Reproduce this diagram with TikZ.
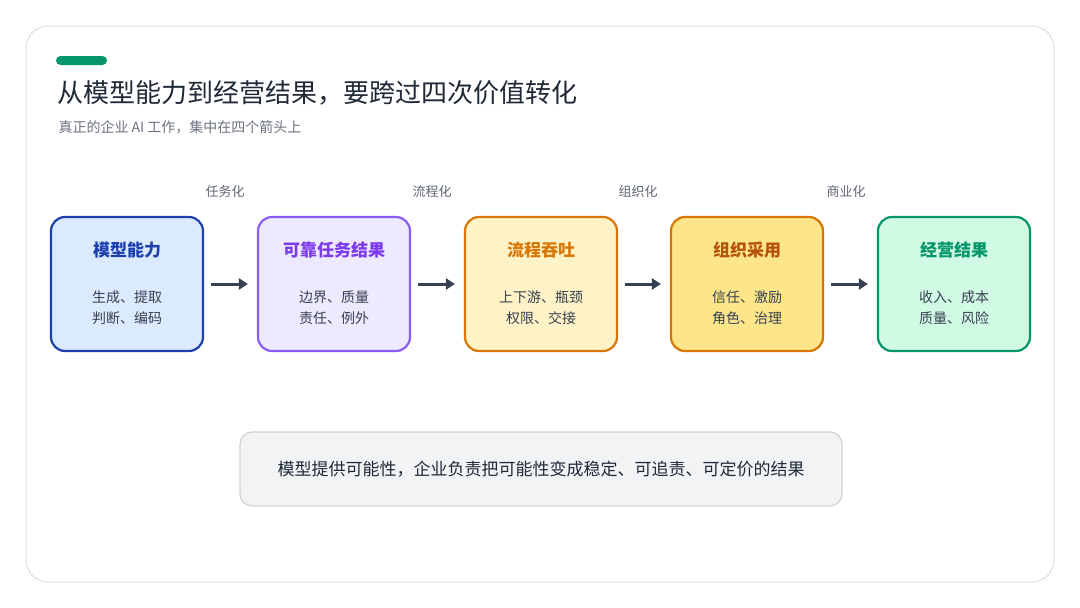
\documentclass[tikz,border=0pt]{standalone}
\usepackage{fontspec}
\setmainfont{Noto Sans CJK SC}
\usetikzlibrary{arrows.meta}
\definecolor{ink}{HTML}{1F2937}
\definecolor{sub}{HTML}{6B7280}
\definecolor{arr}{HTML}{374151}
\definecolor{s1}{HTML}{1E40AF}\definecolor{f1}{HTML}{DCEAFD}
\definecolor{s2}{HTML}{8B5CF6}\definecolor{f2}{HTML}{EDE9FE}\definecolor{t2}{HTML}{7C3AED}
\definecolor{s3}{HTML}{D97706}\definecolor{f3}{HTML}{FEF3C7}
\definecolor{f4}{HTML}{FDE68A}\definecolor{t4}{HTML}{B45309}
\definecolor{s5}{HTML}{059669}\definecolor{f5}{HTML}{D1FAE5}
\definecolor{nf}{HTML}{F1F3F5}
\tikzset{
 stage/.style={draw=#1,line width=2.2pt,rounded corners=14pt,minimum width=152pt,minimum height=134pt},
 ttl/.style={font=\fontsize{17}{20}\selectfont\bfseries},
 body/.style={font=\fontsize{14}{21}\selectfont,text=arr,align=center},
 lab/.style={font=\fontsize{13}{15}\selectfont,text=arr!80},
 con/.style={-{Triangle[length=9pt,width=11pt]},line width=3pt,draw=arr}
}
\begin{document}
\begin{tikzpicture}[x=1pt,y=-1pt]
\useasboundingbox[fill=white] (0,0) rectangle (1080,608);
\draw[draw=gray!25,line width=1pt,rounded corners=22pt,fill=white] (26,26) rectangle (1054,582);
\fill[s5,rounded corners=4.5pt] (56,56) rectangle (107,65);
\node[anchor=west,text=ink,font=\fontsize{26}{30}\selectfont] (title) at (54,93) {从模型能力到经营结果，要跨过四次价值转化};
\node[anchor=west,text=sub,font=\fontsize{14}{16}\selectfont] (subt) at (55,127) {真正的企业 AI 工作，集中在四个箭头上};

\node[stage=s1,fill=f1] (b1) at (127,284) {};
\node[stage=s2,fill=f2] (b2) at (334,284) {};
\node[stage=s3,fill=f3] (b3) at (541,284) {};
\node[stage=s3,fill=f4] (b4) at (747,284) {};
\node[stage=s5,fill=f5] (b5) at (954,284) {};

\node[ttl,text=s1] at (127,250) {模型能力};
\node[ttl,text=t2] at (334,250) {可靠任务结果};
\node[ttl,text=s3] at (541,250) {流程吞吐};
\node[ttl,text=t4] at (747,250) {组织采用};
\node[ttl,text=s5] at (954,250) {经营结果};

\node[body] at (127,308) {生成、提取\\判断、编码};
\node[body] at (334,308) {边界、质量\\责任、例外};
\node[body] at (541,308) {上下游、瓶颈\\权限、交接};
\node[body] at (747,308) {信任、激励\\角色、治理};
\node[body] at (954,308) {收入、成本\\质量、风险};

\draw[con] ([xshift=7pt]b1.east) -- ([xshift=-9pt]b2.west);
\draw[con] ([xshift=7pt]b2.east) -- ([xshift=-9pt]b3.west);
\draw[con] ([xshift=7pt]b3.east) -- ([xshift=-9pt]b4.west);
\draw[con] ([xshift=7pt]b4.east) -- ([xshift=-9pt]b5.west);

\node[lab] at (225,192) {任务化};
\node[lab] at (432,192) {流程化};
\node[lab] at (638,192) {组织化};
\node[lab] at (846,192) {商业化};

\node[draw=gray!35,line width=1.2pt,fill=nf,rounded corners=12pt,minimum width=602pt,minimum height=74pt,text=ink,font=\fontsize{17}{20}\selectfont] (note) at (541,469) {模型提供可能性，企业负责把可能性变成稳定、可追责、可定价的结果};
\end{tikzpicture}
\end{document}
